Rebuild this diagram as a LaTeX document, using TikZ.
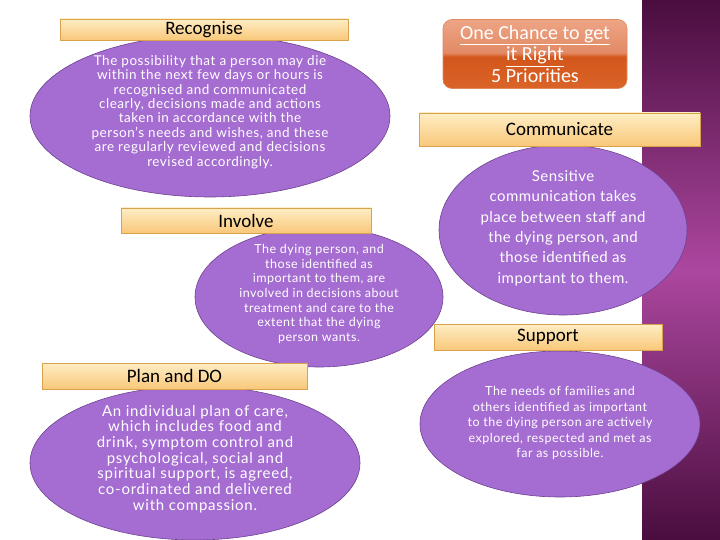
\documentclass[tikz,border=0pt]{standalone}
\usepackage{fontspec}
\setmainfont{Lato}
\newfontfamily\labelfont{Carlito}
\usetikzlibrary{shapes.geometric}
\definecolor{lilac}{HTML}{A56CD2}
\definecolor{lilacdark}{HTML}{6E4290}
\definecolor{peachtop}{HTML}{FEEDC4}
\definecolor{peachbot}{HTML}{F9C87A}
\definecolor{peachedge}{HTML}{D9A24C}
\definecolor{rusttop}{HTML}{EDA585}
\definecolor{rustmid}{HTML}{E28A64}
\definecolor{rustbot}{HTML}{D3561B}
\definecolor{rustlow}{HTML}{DA6428}
\definecolor{plumdark}{HTML}{4A0D3E}
\definecolor{plumlight}{HTML}{AC479F}
\pgfdeclareverticalshading{gloss}{100bp}{color(0bp)=(rustlow); color(25bp)=(rustlow); color(48bp)=(rustbot); color(51bp)=(rustmid); color(75bp)=(rusttop); color(100bp)=(rusttop)}
\pgfdeclareverticalshading{plumstrip}{100bp}{color(0bp)=(plumdark); color(25bp)=(plumdark); color(50bp)=(plumlight); color(75bp)=(plumdark); color(100bp)=(plumdark)}

\begin{document}
\begin{tikzpicture}[
    x=1pt, y=-1pt,
    titlebox/.style={draw=peachedge, line width=0.8pt, top color=peachtop, bottom color=peachbot, inner sep=0pt, font=\labelfont\fontsize{19}{22}\selectfont},
    blob/.style={ellipse, draw=lilacdark, line width=0.6pt, fill=lilac, inner sep=0pt},
    blobtext/.style={text=white, align=center, inner sep=0pt}
]
\useasboundingbox (0,0) rectangle (720,540);
% purple side strip
\shade[shading=plumstrip] (642,0) rectangle (720,540);

% heading
\node (head) at (535,54) [rounded corners=9pt, shading=gloss, draw=rustbot!70!white, line width=0.6pt, minimum width=184pt, minimum height=69pt, inner sep=0pt, text=white, align=center, font=\labelfont\fontsize{20}{21.5}\selectfont] {\underline{One Chance to get}\\\underline{it Right}\\5 Priorities};

% recognise
\node (recog) at (210,116) [blob, minimum width=360pt, minimum height=162pt] {};
\node (recogtxt) at (210,112) [blobtext, font=\addfontfeature{LetterSpace=4}\fontsize{13.5}{14.4}\selectfont] {The possibility that a person may die\\within the next few days or hours is\\recognised and communicated\\clearly, decisions made and actions\\taken in accordance with the\\person's needs and wishes, and these\\are regularly reviewed and decisions\\revised accordingly.};
\node (recoglbl) at (204,29.5) [titlebox, minimum width=288pt, minimum height=21pt] {Recognise};

% communicate
\node (comm) at (563,230) [blob, minimum width=248pt, minimum height=170pt] {};
\node (commtxt) at (563,228) [blobtext, font=\addfontfeature{LetterSpace=3}\fontsize{15}{20.4}\selectfont] {Sensitive\\communication takes\\place between staff and\\the dying person, and\\those identified as\\important to them.};
\node (commlbl) at (559.5,129.5) [titlebox, minimum width=281pt, minimum height=33pt] {Communicate};

% involve
\node (inv) at (319,297) [blob, minimum width=248pt, minimum height=140pt] {};
\node (invtxt) at (319,294) [blobtext, font=\addfontfeature{LetterSpace=4}\fontsize{12.5}{14.7}\selectfont] {The dying person, and\\those identified as\\important to them, are\\involved in decisions about\\treatment and care to the\\extent that the dying\\person wants.};
\node (invlbl) at (246,220.5) [titlebox, minimum width=250pt, minimum height=25pt] {Involve};

% support
\node (supp) at (560,424) [blob, minimum width=280pt, minimum height=146pt] {};
\node (supptxt) at (560,423) [blobtext, font=\addfontfeature{LetterSpace=4}\fontsize{12.5}{15.5}\selectfont] {The needs of families and\\others identified as important\\to the dying person are actively\\explored, respected and met as\\far as possible.};
\node (supplbl) at (548,337) [titlebox, minimum width=228pt, minimum height=26pt] {Support};

% plan and do
\node (plan) at (195,463) [blob, minimum width=330pt, minimum height=154pt] {};
\node (plantxt) at (195,459) [blobtext, font=\addfontfeature{LetterSpace=5}\fontsize{15}{15.7}\selectfont] {An individual plan of care,\\which includes food and\\drink, symptom control and\\psychological, social and\\spiritual support, is agreed,\\co-ordinated and delivered\\with compassion.};
\node (planlbl) at (174.5,376) [titlebox, minimum width=265pt, minimum height=26pt] {Plan and DO};
\end{tikzpicture}
\end{document}
